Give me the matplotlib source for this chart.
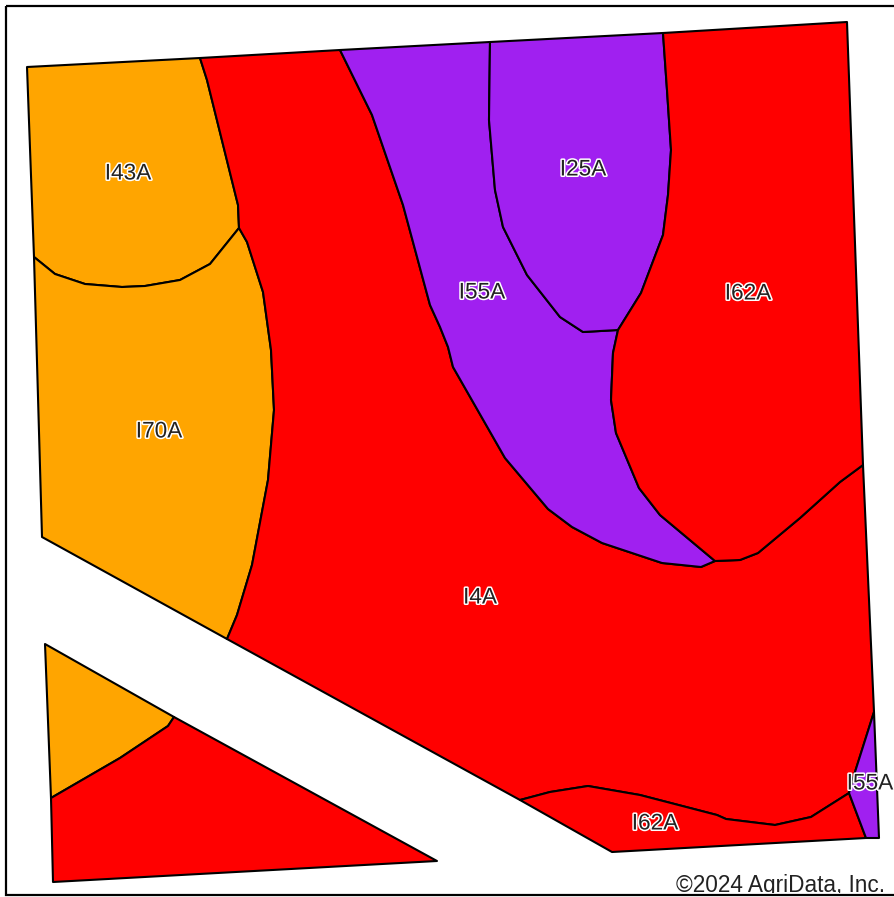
import matplotlib
matplotlib.use('Agg')
import matplotlib.pyplot as plt
import matplotlib.patheffects as pe
from matplotlib.patches import Rectangle

plt.rcParams['font.family'] = ['Liberation Sans', 'DejaVu Sans']

ORANGE = '#FFA500'
RED = '#FF0000'
PURPLE = '#A020F0'

# boundaries between soil units (image pixels)
i43_outer = [(27, 67), (200, 58), (207, 80), (238, 205), (239, 228)]
i43_i70 = [(239, 228), (210, 264), (180, 280), (145, 286), (122, 287), (85, 284), (55, 274), (34, 257)]
i70_west = [(34, 257), (42, 537), (227, 639)]
i70_i4 = [(227, 639), (237, 615), (252, 565), (268, 480), (274, 410), (271, 350), (263, 292), (247, 242), (239, 228)]
i4_top = [(200, 58), (340, 50)]
i4_i55 = [(340, 50), (372, 115), (403, 205), (430, 305), (440, 327), (448, 347), (453, 367), (505, 458),
          (548, 509), (572, 527), (602, 543), (662, 563), (701, 567), (715, 561)]
i4_i62_east = [(715, 561), (740, 560), (758, 553), (800, 518), (840, 482), (863, 465)]
i4_east = [(863, 465), (874, 712)]
i4_i55_small = [(874, 712), (855, 772), (849, 793)]
i4_i62_south = [(849, 793), (811, 817), (775, 825), (726, 819), (717, 815), (640, 795), (588, 786), (550, 792), (520, 800)]
i4_south = [(520, 800), (227, 639)]
i55_top = [(340, 50), (490, 42)]
i55_i25 = [(490, 42), (489, 120), (495, 190), (503, 227), (527, 275), (560, 317), (583, 332), (618, 330)]
i55_i62 = [(618, 330), (613, 353), (611, 400), (616, 433), (639, 488), (660, 515), (715, 561)]
i25_top = [(490, 42), (663, 33)]
i25_i62 = [(663, 33), (667, 90), (671, 150), (668, 195), (663, 235), (641, 293), (618, 330)]
i62_outer = [(663, 33), (847, 22), (863, 465)]
i62_south = [(520, 800), (612, 852), (866, 838), (849, 793)]
i55_small_east = [(849, 793), (866, 838), (879, 838), (874, 712)]
tri_orange_edge = [(45, 644), (174, 717)]
tri_split = [(174, 717), (168, 726), (120, 758), (51, 798)]
tri_west = [(51, 798), (45, 644)]
tri_red_edge = [(174, 717), (437, 861), (53, 882), (51, 798)]

units = [
    (ORANGE, i43_outer + i43_i70),
    (ORANGE, i43_i70[::-1] + i70_i4[::-1] + i70_west[::-1]),
    (RED, i4_top + i4_i55 + i4_i62_east + i4_east + i4_i55_small + i4_i62_south + i4_south + i70_i4 + i43_outer[:1:-1]),
    (PURPLE, i55_top + i55_i25 + i55_i62 + i4_i55[::-1]),
    (PURPLE, i25_top + i25_i62 + i55_i25[::-1]),
    (RED, i62_outer + i4_i62_east[::-1] + i55_i62[::-1] + i25_i62[::-1]),
    (RED, i4_i62_south + i62_south[1:]),
    (PURPLE, i55_small_east + i4_i55_small[1:]),
    (ORANGE, tri_orange_edge + tri_split + tri_west),
    (RED, tri_split[::-1] + tri_red_edge[1:]),
]

label_text = ['I43A', 'I70A', 'I4A', 'I55A', 'I25A', 'I62A', 'I62A', 'I55A']
label_x = [128, 159, 480, 482, 583, 748, 655, 870]
label_y = [173, 431, 597, 292, 169, 293, 823, 783]

fig = plt.figure(figsize=(8.95, 8.97), dpi=100)
ax = fig.add_axes([0, 0, 1, 1])
ax.set_xlim(0, 895)
ax.set_ylim(897, 0)
ax.axis('off')

for color, pts in units:
    xs = [p[0] for p in pts]
    ys = [p[1] for p in pts]
    ax.fill(xs, ys, facecolor=color, edgecolor='black', linewidth=1.5, joinstyle='round', zorder=2)

for t, x, y in zip(label_text, label_x, label_y):
    ax.text(x, y, t, fontsize=16.3, color='#222222', ha='center', va='center', zorder=5,
            path_effects=[pe.withStroke(linewidth=2.2, foreground='white')])

ax.text(885, 892, '©2024 AgriData, Inc.', fontsize=16.3, color='#222222', ha='right', va='baseline', zorder=5)

# the credit is cut off by the frame at the bottom
ax.add_patch(Rectangle((0, 893.5), 895, 4, facecolor='white', edgecolor='none', zorder=6))
ax.add_patch(Rectangle((6, 6), 900, 889.5, fill=False, edgecolor='black', linewidth=1.6, zorder=7))

fig.savefig('out.png', dpi=100)
